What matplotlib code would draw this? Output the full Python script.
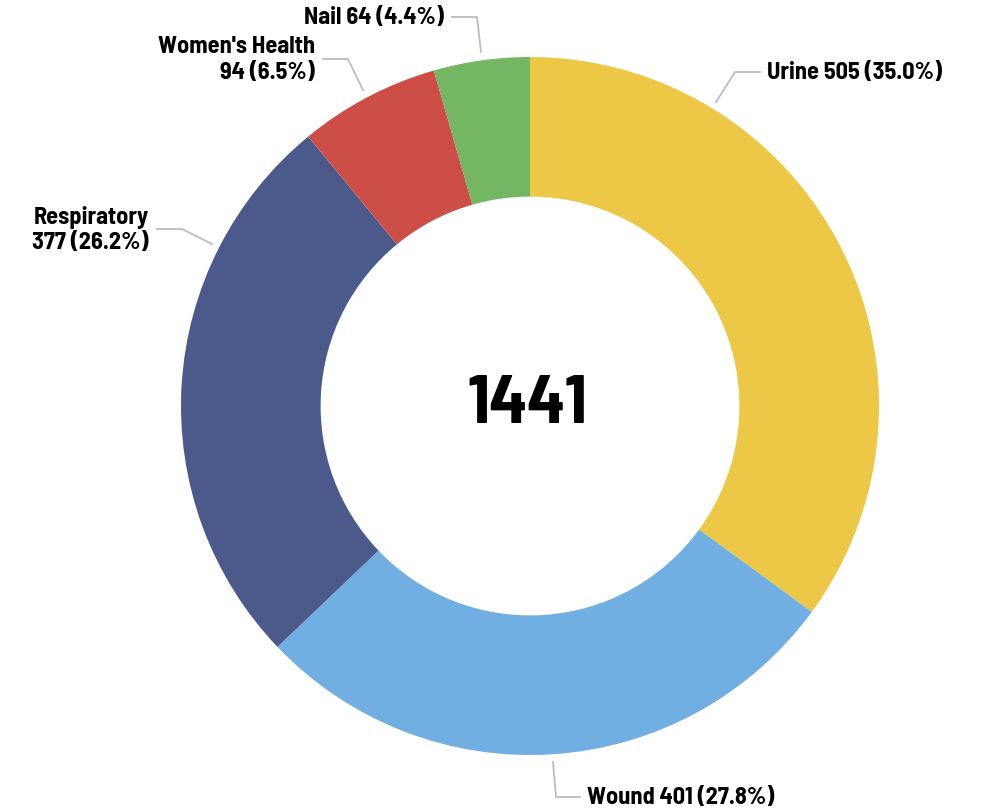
import matplotlib
matplotlib.use("Agg")
import matplotlib.pyplot as plt

##  Dados  ##
categories = ["Urine", "Wound", "Respiratory", "Women's Health", "Nail"]
counts = [505, 401, 377, 94, 64]
colors = ["#ECC846", "#71AEE1", "#4B5A8A", "#CD4D47", "#74B662"]
total = sum(counts)

plt.rcParams['font.family'] = ['Barlow Semi Condensed', 'DejaVu Sans']

W, H = 987, 812
fig = plt.figure(figsize=(W / 100, H / 100), dpi=100, facecolor='white')
ax = fig.add_axes([0, 0, 1, 1])

cx, cy, R = 530, H - 407, 349
ax.pie(counts, colors=colors, startangle=90, counterclock=False,
       center=(cx, cy), radius=R, frame=True,
       wedgeprops=dict(width=R * 0.4, linewidth=0))
ax.set_xlim(0, W)
ax.set_ylim(0, H)
ax.set_aspect('equal')
ax.axis('off')

##  Total no centro  ##
ax.text(cx - 3, H - 423, str(total), ha='center', va='baseline',
        fontsize=50, fontweight='bold', color='black')

##  Rótulos com linhas guia (posições em pixels)  ##
# (ponto na fatia, cotovelo, fim, alinhamento)
layout = [
    ((716, 103), (735, 73), (760, 73), 'left'),
    ((553, 763), (556, 798), (580, 798), 'left'),
    ((212, 245), (182, 230), (157, 230), 'right'),
    ((363, 91), (348, 60), (323, 60), 'right'),
    ((481, 53), (477, 18), (452, 18), 'right'),
]
texts = []
for name, n in zip(categories, counts):
    pct = 100 * n / total
    if name in ("Respiratory", "Women's Health"):
        texts.append(f"{name}\n{n} ({pct:.1f}%)")
    else:
        texts.append(f"{name} {n} ({pct:.1f}%)")

for txt, (p0, p1, p2, ha) in zip(texts, layout):
    xs = [p0[0], p1[0], p2[0]]
    ys = [H - p0[1], H - p1[1], H - p2[1]]
    ax.plot(xs, ys, color='#BDBDBD', lw=1.3)
    off = 7 if ha == 'left' else -8
    ax.text(p2[0] + off, H - p2[1], txt, ha=ha, va='center',
            multialignment='right' if ha == 'right' else 'left',
            fontsize=17.5, fontweight='bold', color='black', linespacing=1.2)

fig.savefig('out.png', dpi=100, facecolor='white')
